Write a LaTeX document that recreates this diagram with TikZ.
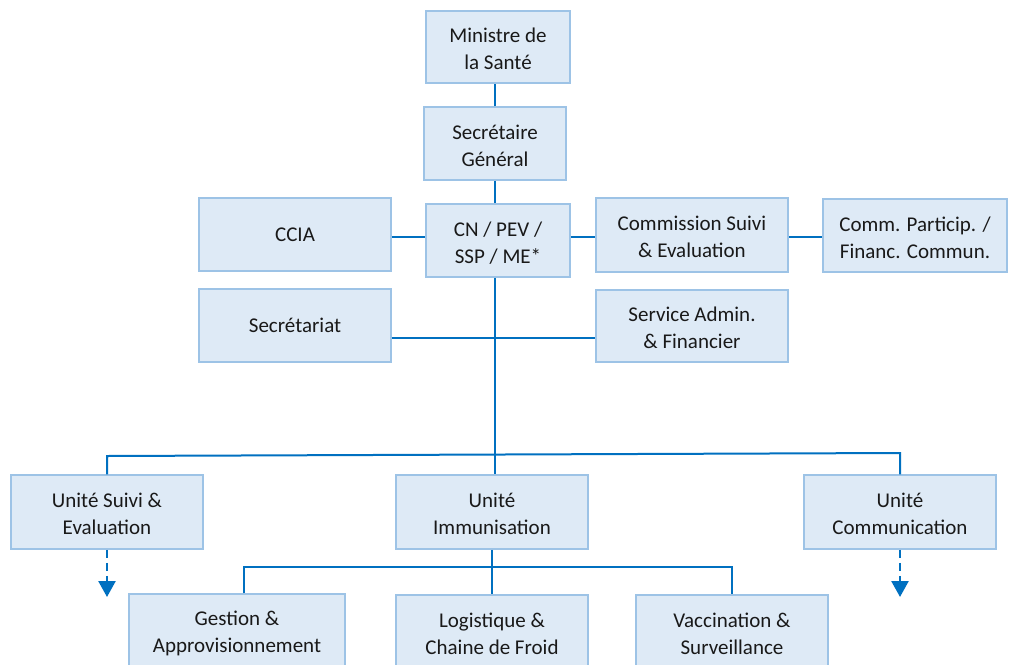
\documentclass[tikz,border=0pt]{standalone}
\usepackage{fontspec}
\setmainfont{Carlito}
\usetikzlibrary{arrows.meta}
\definecolor{boxfill}{HTML}{DEEAF6}
\definecolor{boxdraw}{HTML}{9DC3E6}
\definecolor{linec}{HTML}{0070C0}
\tikzset{
  box/.style={draw=boxdraw, fill=boxfill, line width=1.5pt, rectangle, inner sep=0pt,
    align=center, font=\fontsize{21}{27}\selectfont, text=black!90},
  conn/.style={draw=linec, line width=2pt},
  dasharrow/.style={draw=linec, line width=2.5pt, dash pattern=on 8pt off 5pt,
    -{Triangle[width=17pt,length=16pt]}}
}
\begin{document}
\begin{tikzpicture}[x=1pt,y=-1pt]
\useasboundingbox (0,0) rectangle (1009,664);
\clip (0,0) rectangle (1009,664);
% nodes
\node[box, minimum width=144pt, minimum height=72pt] (min) at (498,47) {\strut Ministre de\\la Santé};
\node[box, minimum width=142pt, minimum height=73pt] (sg) at (495,143.5) {\strut Secrétaire\\Général};
\node[box, minimum width=144pt, minimum height=73pt] (cn) at (498,240.5) {\strut CN / PEV /\\SSP / ME*};
\node[box, minimum width=192pt, minimum height=73pt] (ccia) at (295,234.5) {CCIA};
\node[box, minimum width=192pt, minimum height=73pt] (sec) at (295,325.5) {Secrétariat};
\node[box, minimum width=192pt, minimum height=74pt] (cse) at (692,235) {\strut Commission Suivi\\\& Evaluation};
\node[box, minimum width=184pt, minimum height=73pt] (cpf) at (915,235.5) {\strut Comm. Particip. /\\Financ. Commun.};
\node[box, minimum width=192pt, minimum height=72pt] (saf) at (692,326) {\strut Service Admin.\\\& Financier};
\node[box, minimum width=192pt, minimum height=74pt] (use) at (107,512) {\strut Unité Suivi \&\\Evaluation};
\node[box, minimum width=192pt, minimum height=74pt] (ui) at (492,512) {\strut Unité\\Immunisation};
\node[box, minimum width=192pt, minimum height=74pt] (uc) at (900,512) {\strut Unité\\Communication};
\node[box, minimum width=216pt, minimum height=74pt] (ga) at (237,631) {\strut Gestion \&\\Approvisionnement};
\node[box, minimum width=192pt, minimum height=74pt] (lcf) at (492,632) {\strut Logistique \&\\Chaine de Froid};
\node[box, minimum width=192pt, minimum height=74pt] (vs) at (732,632) {\strut Vaccination \&\\Surveillance};
% helper coordinates
\coordinate (busL) at (107,456);
\coordinate (busR) at (900,453);
\coordinate (busC) at (495,454.5);
\coordinate (bbC) at (492,567);
\coordinate (bbL) at (244,567);
\coordinate (bbR) at (732,567);
\coordinate (useEnd) at (107,597);
\coordinate (ucEnd) at (900,597);
% connectors
\draw[conn] (sg.north) -- (sg.north |- min.south);
\draw[conn] (sg.south) -- (sg.south |- cn.north);
\draw[conn] (ccia.east |- 0,237) -- (cn.west |- 0,237);
\draw[conn] (cn.east |- 0,237) -- (cse.west |- 0,237);
\draw[conn] (cse.east |- 0,237) -- (cpf.west |- 0,237);
\draw[conn] (cn.south -| busC) -- (busC);
\draw[conn] (sec.east |- 0,338) -- (saf.west |- 0,338);
\draw[conn] (use.north) -- (busL) -- (busR) -- (uc.north);
\draw[conn] (busC) -- (busC |- ui.north);
\draw[conn] (ui.south) -- (bbC);
\draw[conn] (bbL |- ga.north) -- (bbL) -- (bbR) -- (vs.north);
\draw[conn] (bbC) -- (lcf.north);
\draw[dasharrow] (use.south) -- (useEnd);
\draw[dasharrow] (uc.south) -- (ucEnd);
\end{tikzpicture}
\end{document}
